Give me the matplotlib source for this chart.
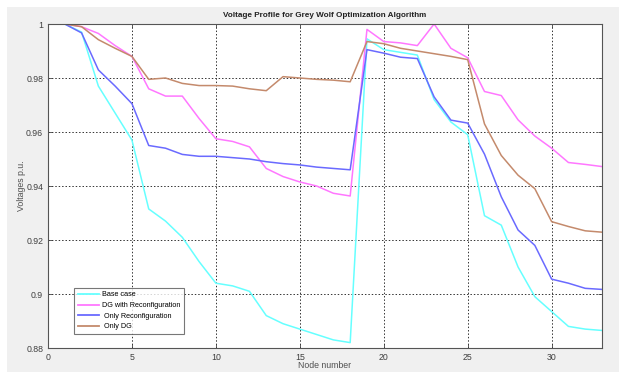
import numpy as np
import matplotlib
matplotlib.use("Agg")
import matplotlib.pyplot as plt
from matplotlib.patches import Rectangle

plt.rcParams['font.family'] = ['Liberation Sans', 'DejaVu Sans']

# node numbers of the 33-bus system
nodes = np.arange(1, 34)

base_case = [1.0, 0.997, 0.977, 0.967, 0.957, 0.9315, 0.927, 0.921, 0.912, 0.904,
             0.903, 0.901, 0.892, 0.889, 0.887, 0.885, 0.883, 0.882, 0.9945, 0.9905,
             0.9895, 0.9885, 0.972, 0.9637, 0.959, 0.929, 0.9255, 0.910, 0.899, 0.8935,
             0.888, 0.887, 0.8865]

dg_reconf = [1.0, 0.999, 0.9965, 0.992, 0.988, 0.976, 0.9733, 0.9733, 0.965, 0.9575,
             0.9565, 0.9545, 0.9465, 0.9435, 0.9415, 0.940, 0.9373, 0.9363, 0.998, 0.9935,
             0.993, 0.992, 1.0, 0.991, 0.9875, 0.975, 0.9735, 0.9645, 0.9585, 0.954,
             0.9487, 0.948, 0.9472]

only_reconf = [1.0, 0.9967, 0.983, 0.977, 0.9705, 0.955, 0.954, 0.9517, 0.951, 0.951,
               0.9505, 0.950, 0.949, 0.9483, 0.9478, 0.947, 0.9465, 0.946, 0.9905, 0.9892,
               0.9877, 0.9872, 0.973, 0.9644, 0.9633, 0.9518, 0.936, 0.9237, 0.918, 0.9055,
               0.904, 0.9021, 0.9017]

only_dg = [1.0, 0.999, 0.9942, 0.991, 0.988, 0.9795, 0.980, 0.978, 0.9772, 0.9772,
           0.977, 0.976, 0.9753, 0.9805, 0.980, 0.9795, 0.9792, 0.9786, 0.9935, 0.9927,
           0.991, 0.990, 0.989, 0.988, 0.9868, 0.963, 0.9513, 0.944, 0.939, 0.9268,
           0.925, 0.9234, 0.9229]

fig = plt.figure(figsize=(6.19, 3.72), dpi=100)
fig.patch.set_facecolor("#f0f0f0")
# white screenshot border at top and left
fig.patches.append(Rectangle((0, 1 - 7 / 372), 1, 7 / 372, transform=fig.transFigure,
                             facecolor="white", edgecolor="none", zorder=-1))
fig.patches.append(Rectangle((0, 0), 7 / 619, 1, transform=fig.transFigure,
                             facecolor="white", edgecolor="none", zorder=-1))

ax = fig.add_axes([48 / 619, 1 - 348 / 372, (602 - 48) / 619, (348 - 24) / 372])

ax.plot(nodes, base_case, color="#66ffff", lw=1.1, label="Base case")
ax.plot(nodes, dg_reconf, color="#ff77ff", lw=1.1, label="DG with Reconfiguration")
ax.plot(nodes, only_reconf, color="#6a6aff", lw=1.1, label=" Only Reconfiguration")
ax.plot(nodes, only_dg, color="#c48a6c", lw=1.1, label=" Only DG")

ax.set_xlim(0, 33)
ax.set_ylim(0.88, 1.0)
ax.set_xticks([0, 5, 10, 15, 20, 25, 30])
yt = [0.88, 0.9, 0.92, 0.94, 0.96, 0.98, 1.0]
ax.set_yticks(yt)
ax.set_yticklabels(["0.88", "0.9", "0.92", "0.94", "0.96", "0.98", "1"])
ax.grid(True, color="#333333", linestyle=(0, (1.5, 2)), lw=0.7)
ax.tick_params(direction="in", labelsize=6.3, colors="#404040", length=3,
               top=True, right=True, width=0.6)
for s in ax.spines.values():
    s.set_color("#555555")
    s.set_linewidth(0.8)

ax.set_title("Voltage Profile for Grey Wolf Optimization Algorithm", fontsize=5.9,
             fontweight="bold", color="#222222", pad=5)
ax.set_xlabel("Node number", fontsize=6.3, color="#505050")
ax.set_ylabel("Voltages p.u.", fontsize=6.3, color="#505050")
ax.xaxis.set_label_coords(0.5, -(361 - 348) / 324)
ax.yaxis.set_label_coords(-(48 - 26) / 554, 0.5)

leg = ax.legend(loc="lower left", bbox_to_anchor=(26 / 554, 14 / 324), fontsize=5.2,
                frameon=True, fancybox=False, borderpad=0.5, labelspacing=0.5,
                handlelength=3.0, handletextpad=0.4, borderaxespad=0)
leg.get_frame().set_edgecolor("#555555")
leg.get_frame().set_linewidth(0.8)
for line in leg.get_lines():
    line.set_linewidth(1.3)

fig.savefig("out.png", dpi=100, facecolor=fig.get_facecolor())
